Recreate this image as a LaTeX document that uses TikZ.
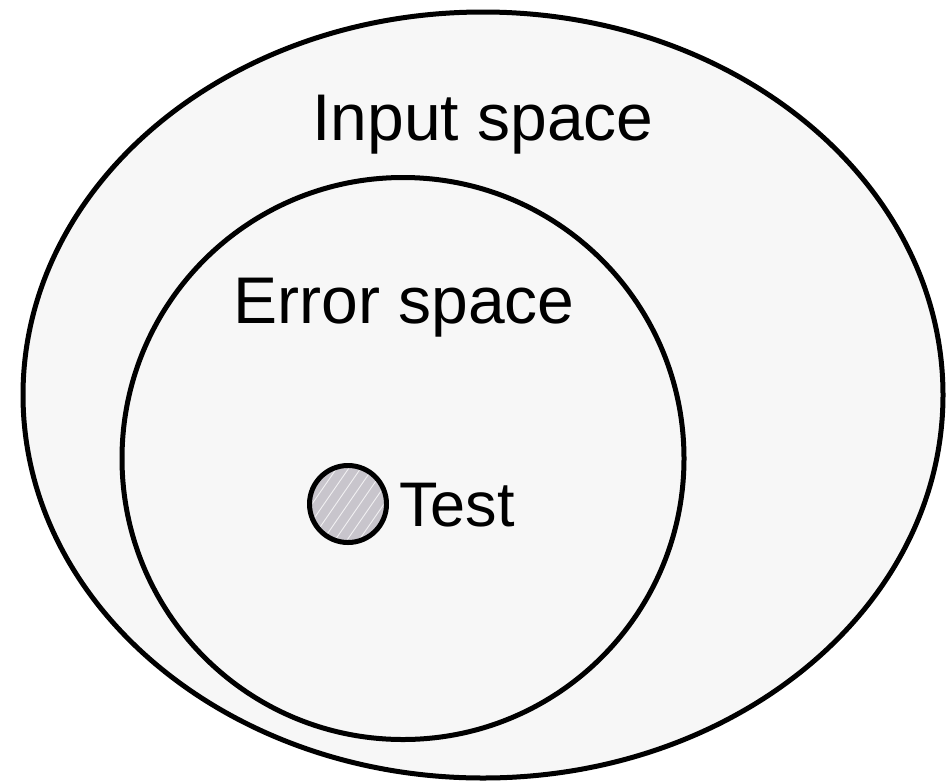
\documentclass[tikz,border=0pt]{standalone}
\usepackage{fontspec}
\setmainfont{Liberation Sans}
\usetikzlibrary{shapes.geometric}
\definecolor{spacefill}{HTML}{F7F7F7}
\definecolor{testfill}{HTML}{C8C5CC}
\tikzset{
  region/.style={draw=black, line width=5pt, fill=spacefill, inner sep=0pt, outer sep=0pt},
  label/.style={inner sep=0pt, outer sep=0pt, font=\fontsize{66}{70}\selectfont},
  hatchline/.style={draw=white, line width=0.9pt, opacity=0.75}
}
\begin{document}
\begin{tikzpicture}[x=1pt, y=-1pt]
  \useasboundingbox (0,0) rectangle (949,782);
  \node[region, ellipse, minimum width=920pt, minimum height=766pt] (input) at (483,395) {};
  \node[region, circle, minimum size=562pt] (error) at (403,458.5) {};
  \node[region, circle, minimum size=77pt, fill=testfill,
        path picture={
          \foreach \i in {-7,...,7}
            \draw[hatchline] ([shift={(\i*12-45,65)}]path picture bounding box.center) -- ++(90,-130);
        }] (test) at (348,504) {};
  \node[label, anchor=base] (inputlabel) at (483,140) {Input space};
  \node[label, anchor=base] (errorlabel) at (404,323) {Error space};
  \node[label, anchor=base west, font=\fontsize{63}{66}\selectfont] (testlabel) at (399,526) {Test};
\end{tikzpicture}
\end{document}
